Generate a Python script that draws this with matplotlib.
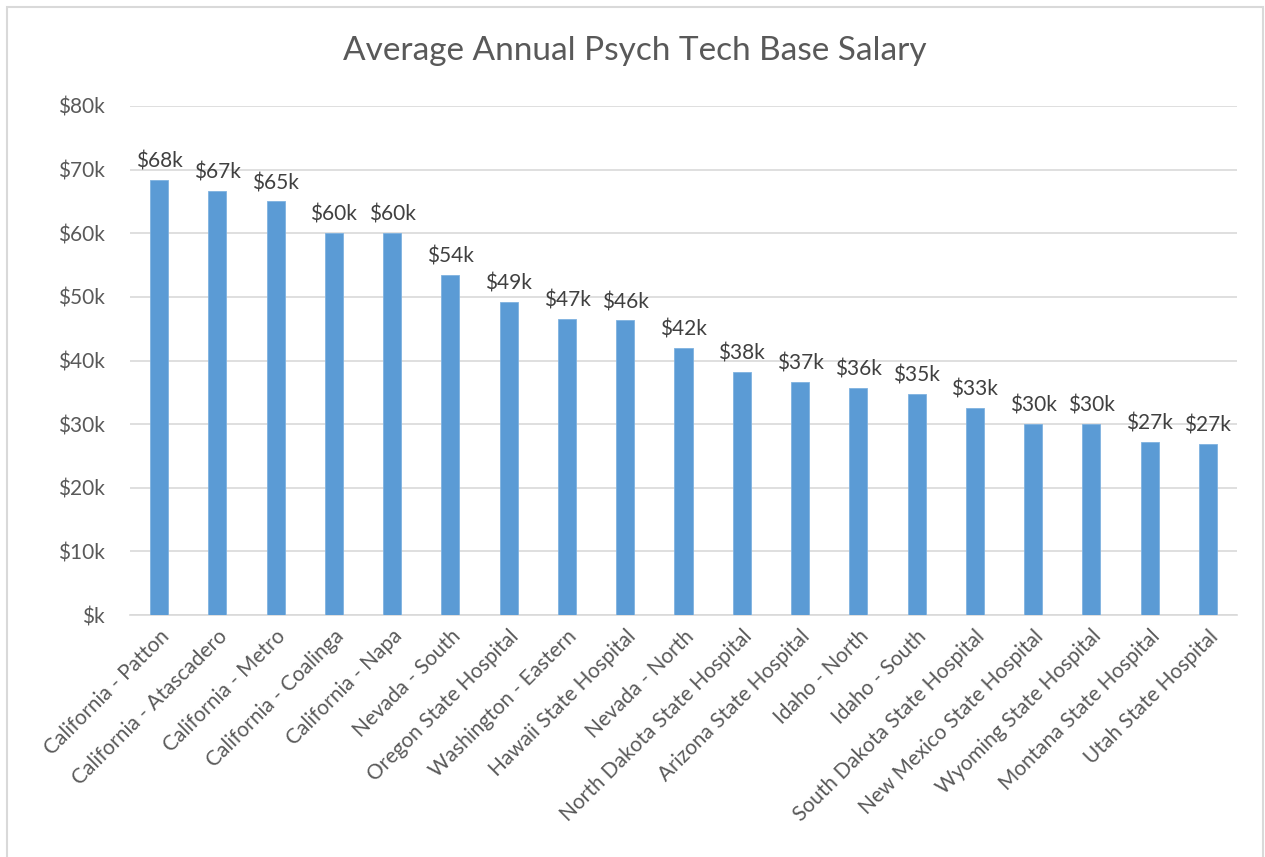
import matplotlib
matplotlib.use("Agg")
import matplotlib.pyplot as plt
from matplotlib.patches import Rectangle

categories = ["California - Patton", "California - Atascadero", "California - Metro",
              "California - Coalinga", "California - Napa", "Nevada - South",
              "Oregon State Hospital", "Washington - Eastern", "Hawaii State Hospital",
              "Nevada - North", "North Dakota State Hospital", "Arizona State Hospital",
              "Idaho - North", "Idaho - South", "South Dakota State Hospital",
              "New Mexico State Hospital", "Wyoming State Hospital", "Montana State Hospital",
              "Utah State Hospital"]
salaries_k = [68.4, 66.6, 65.0, 60.1, 60.1, 53.5, 49.2, 46.6, 46.3, 42.0,
              38.2, 36.6, 35.7, 34.7, 32.6, 30.0, 30.0, 27.2, 26.9]
yticks = [0, 10, 20, 30, 40, 50, 60, 70, 80]

plt.rcParams['font.family'] = ['Lato', 'DejaVu Sans']

fig = plt.figure(figsize=(12.65, 8.57), dpi=100)
ax = fig.add_axes([130/1265, 1-615/857, (1237-130)/1265, (615-106)/857])

x = list(range(len(categories)))
ax.bar(x, salaries_k, width=0.31, color="#5B9BD5", edgecolor="#7FB2E0", linewidth=0.6, zorder=3)
for xi, v in zip(x, salaries_k):
    ax.annotate(f"${round(v):d}k", (xi, v), xytext=(0, 6), textcoords="offset points",
                ha="center", va="bottom", fontsize=15, color="#404040")

ax.set_xlim(-0.5, len(categories) - 0.5)
ax.set_ylim(0, 80)
ax.set_yticks(yticks)
ax.set_yticklabels([f"${t}k" if t else "$k" for t in yticks], fontsize=15, color="#595959")
ax.set_xticks(x)
ax.set_xticklabels(categories, rotation=45, ha="right", rotation_mode="anchor",
                   fontsize=15, color="#595959")
ax.tick_params(axis="both", length=0)
ax.tick_params(axis="y", pad=18)
ax.tick_params(axis="x", pad=8)
ax.grid(axis="y", color="#D9D9D9", linewidth=1.2, zorder=0)
for s in ["top", "right", "left"]:
    ax.spines[s].set_visible(False)
ax.spines["bottom"].set_color("#D9D9D9")
ax.spines["bottom"].set_linewidth(1.2)

fig.text(635/1265, 1-51/857, "Average Annual Psych Tech Base Salary", ha="center", va="center",
         fontsize=24, color="#595959")

fig.patches.append(Rectangle((7/1265, -0.01), (1263-7)/1265, 1-7/857+0.01,
                             transform=fig.transFigure, fill=False,
                             edgecolor="#D9D9D9", linewidth=1.5))

fig.savefig("out.png", dpi=100, facecolor="white")
